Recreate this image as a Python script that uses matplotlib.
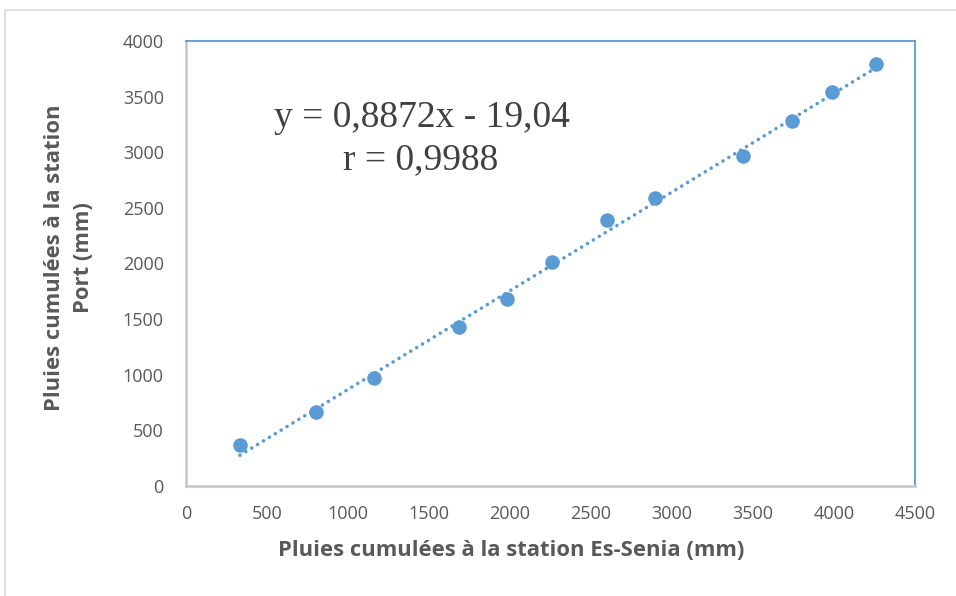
import matplotlib
matplotlib.use("Agg")
import matplotlib.pyplot as plt
from matplotlib.patches import Rectangle
import numpy as np

# Data
es_senia = [333, 802, 1158, 1683, 1980, 2262, 2601, 2893, 3438, 3738, 3985, 4259]
port = [370, 668, 975, 1430, 1685, 2015, 2388, 2585, 2962, 3279, 3540, 3793]
slope = 0.8872
intercept = -19.04
eq_text = "y = 0,8872x - 19,04"
r_text = "r = 0,9988"
x_ticks = [0, 500, 1000, 1500, 2000, 2500, 3000, 3500, 4000, 4500]
y_ticks = [0, 500, 1000, 1500, 2000, 2500, 3000, 3500, 4000]
x_label = "Pluies cumulées à la station Es-Senia (mm)"
y_label = "Pluies cumulées à la station\nPort (mm)"

blue = "#5b9bd5"
grey = "#595959"

fig = plt.figure(figsize=(9.56, 5.96), dpi=100)
fig.patch.set_facecolor("white")
ax = fig.add_axes([186/956, 1-486/596, (915-186)/956, (486-41)/596])

# outer frame
fig.patches.append(Rectangle((5/956, -0.01), 1.0, 1-10/596+0.01, transform=fig.transFigure,
                             fill=False, edgecolor="#d9d9d9", linewidth=1.2, clip_on=False))

xs = np.array([min(es_senia), max(es_senia)])
ax.plot(xs, slope*xs + intercept, color=blue, linewidth=2.6,
        linestyle=(0, (0.01, 1.9)), dash_capstyle="round", zorder=2)
ax.scatter(es_senia, port, s=110, color=blue, zorder=3, linewidths=0)

ax.set_xlim(0, 4500)
ax.set_ylim(0, 4000)
ax.set_xticks(x_ticks)
ax.set_yticks(y_ticks)
ax.tick_params(length=0, labelsize=13, labelcolor=grey)
ax.tick_params(axis="y", pad=16)
ax.tick_params(axis="x", pad=14)
for lab in ax.get_xticklabels() + ax.get_yticklabels():
    lab.set_fontfamily("Open Sans")

for s in ["top", "right"]:
    ax.spines[s].set_color(blue)
    ax.spines[s].set_linewidth(1.3)
for s in ["left", "bottom"]:
    ax.spines[s].set_color("#bfc7d2")
    ax.spines[s].set_linewidth(1.8)

fig.text(511/956, 1-551/596, x_label, ha="center", va="center", fontsize=15.8,
         fontweight="bold", color=grey, family="Open Sans")
fig.text(69/956, 1-258/596, y_label, ha="center", va="center", fontsize=15.8,
         fontweight="bold", color=grey, family="Open Sans", rotation=90,
         multialignment="center", linespacing=1.45)

fig.text(422/956, 1-118/596, eq_text, ha="center", va="center", fontsize=27,
         color="#404040", family="Liberation Serif")
fig.text(421/956, 1-160/596, r_text, ha="center", va="center", fontsize=27,
         color="#404040", family="Liberation Serif")

fig.savefig("out.png", dpi=100)
